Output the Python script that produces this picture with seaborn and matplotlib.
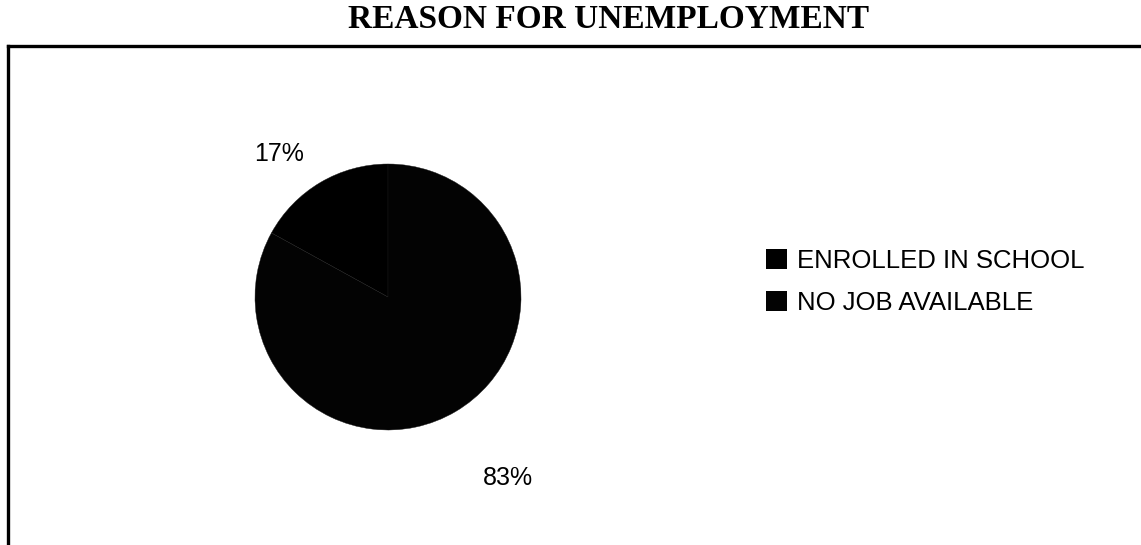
import matplotlib
matplotlib.use("Agg")
import matplotlib.pyplot as plt
from matplotlib.patches import Patch
import seaborn as sns

# Reasons given for unemployment (share of respondents, %)
categories = ["ENROLLED IN SCHOOL", "NO JOB AVAILABLE"]
shares = [17, 83]
pct_labels = ["17%", "83%"]
slice_colors = ["#000000", "#030303"]

sns.set_theme(style="white")
plt.rcParams["font.family"] = ["Liberation Sans", "DejaVu Sans"]
plt.rcParams["text.color"] = "black"

W, H = 1141, 545
fig = plt.figure(figsize=(W / 100, H / 100), dpi=100)
fig.patch.set_facecolor("white")

# Outer frame: only the top and left edges fall inside the image
frame = fig.add_axes([8 / W, -0.05, 1.05, 1 - 46 / H + 0.05])
frame.set_xticks([])
frame.set_yticks([])
for side in ("right", "bottom"):
    frame.spines[side].set_visible(False)
for side in ("left", "top"):
    frame.spines[side].set_linewidth(2.4)
    frame.spines[side].set_color("black")
frame.set_facecolor("white")

fig.text(0.5 * (356 + 862) / W, 1 - 19 / H, "REASON FOR UNEMPLOYMENT",
         ha="center", va="center", fontsize=24, fontweight="bold",
         color="black", family=["Liberation Serif", "DejaVu Serif"])

# Pie drawn in a square axes
cx, cy, r = 388, 297, 133
ax = fig.add_axes([(cx - r) / W, (H - cy - r) / H, 2 * r / W, 2 * r / H])
wedges, texts = ax.pie(shares, colors=slice_colors, startangle=90,
                       counterclock=True, labels=pct_labels, labeldistance=1.3,
                       wedgeprops=dict(edgecolor="#1a1a1a", linewidth=0.3),
                       textprops=dict(fontsize=18, color="black"))
ax.set_xlim(-1, 1)
ax.set_ylim(-1, 1)
ax.set_aspect("equal")

label_pos = [(-0.82, 1.075), (0.90, -1.36)]
for t, (x, y) in zip(texts, label_pos):
    t.set_position((x, y))
    t.set_ha("center")
    t.set_va("center")

handles = [Patch(facecolor=c, edgecolor="none") for c in slice_colors]
leg = fig.legend(handles, categories, loc="center left",
                 bbox_to_anchor=(766 / W, 1 - 282 / H), frameon=False,
                 fontsize=18.5, handlelength=0.8, handleheight=0.8,
                 handletextpad=0.4, labelspacing=0.72, borderpad=0,
                 borderaxespad=0)
for t in leg.get_texts():
    t.set_color("black")

fig.savefig("out.png", dpi=100, facecolor="white")
